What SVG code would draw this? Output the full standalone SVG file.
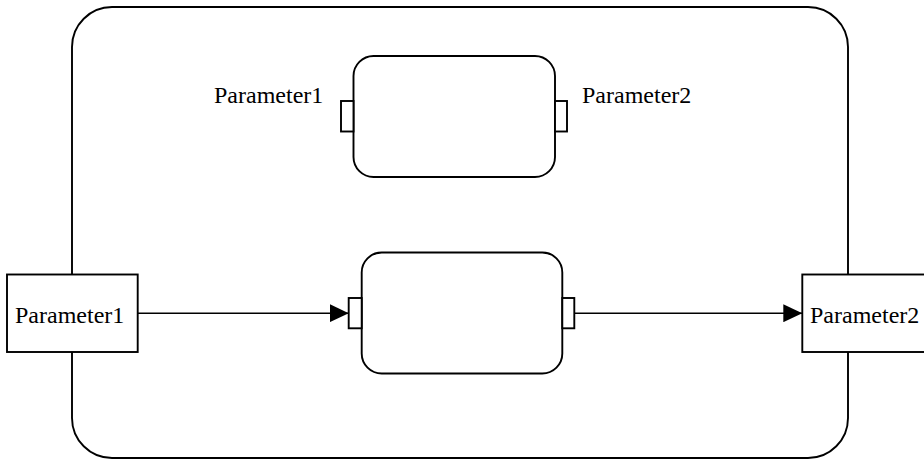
<svg xmlns="http://www.w3.org/2000/svg" width="924" height="460" viewBox="0 0 924 460">
<style>
.s{fill:#fff;stroke:#000;stroke-width:1.9}
.l{fill:none;stroke:#000;stroke-width:1.6}
text{font-family:"Liberation Serif","Times New Roman",serif;font-size:24px;fill:#000}
</style>
<defs>
<marker id="ah" markerWidth="20" markerHeight="18" refX="19" refY="9" orient="auto" markerUnits="userSpaceOnUse">
<path d="M0,0 L19,9 L0,18 Z" fill="#000"/>
</marker>
</defs>
<g id="container">
<rect class="s" x="72" y="7" width="776" height="451" rx="40" ry="40"/>
</g>
<g id="block-top">
<rect class="s" x="353.5" y="56" width="201.5" height="121" rx="20" ry="20"/>
<rect class="s" x="341" y="101" width="12.5" height="30.5"/>
<rect class="s" x="555" y="101" width="12" height="30.5"/>
<text x="214" y="103">Parameter1</text>
<text x="582" y="103">Parameter2</text>
</g>
<g id="block-bottom">
<rect class="s" x="361.7" y="252.5" width="200.6" height="121" rx="20" ry="20"/>
<rect class="s" x="348.7" y="298" width="13" height="30.3"/>
<rect class="s" x="562.3" y="298" width="12" height="30.3"/>
</g>
<g id="param1">
<rect class="s" x="7" y="274.5" width="130.7" height="77.5"/>
<text x="15" y="323">Parameter1</text>
</g>
<g id="param2">
<rect class="s" x="802.3" y="274.5" width="130.7" height="77.5"/>
<text x="810" y="323">Parameter2</text>
</g>
<g id="connectors">
<line class="l" x1="137.7" y1="313.2" x2="348.7" y2="313.2" marker-end="url(#ah)"/>
<line class="l" x1="574.3" y1="313.2" x2="802.3" y2="313.2" marker-end="url(#ah)"/>
</g>
</svg>
